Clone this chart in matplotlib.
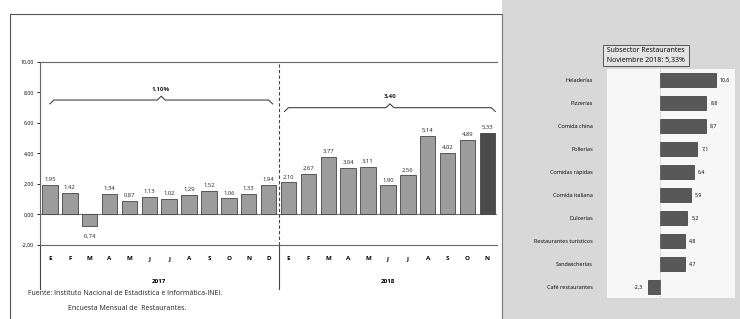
import numpy as np
import matplotlib.pyplot as plt
from matplotlib.patches import Rectangle

# datos del grafico izquierdo
meses = ['E', 'F', 'M', 'A', 'M', 'J', 'J', 'A', 'S', 'O', 'N', 'D',
         'E', 'F', 'M', 'A', 'M', 'J', 'J', 'A', 'S', 'O', 'N']
valores = [1.95, 1.42, -0.74, 1.34, 0.87, 1.13, 1.02, 1.29, 1.52, 1.06, 1.33, 1.94,
           2.10, 2.67, 3.77, 3.04, 3.11, 1.90, 2.56, 5.14, 4.02, 4.89, 5.33]
etiquetas = ['1,95', '1,42', '-0,74', '1,34', '0,87', '1,13', '1,02', '1,29', '1,52',
             '1,06', '1,33', '1,94', '2,10', '2,67', '3,77', '3,04', '3,11', '1,90',
             '2,56', '5,14', '4,02', '4,89', '5,33']
anios = ['2017', '2018']
promedios = ['1,10%', '3,40']
yticks = [-2, 0, 2, 4, 6, 8, 10]

# datos del grafico derecho
subsector = ['Heladerías', 'Pizzerías', 'Comida china', 'Pollerías', 'Comidas rápidas',
             'Comida italiana', 'Dulcerías', 'Restaurantes turísticos', 'Sandwicherías',
             'Café restaurantes']
var_sub = [10.6, 8.8, 8.7, 7.1, 6.4, 5.9, 5.2, 4.8, 4.7, -2.3]

plt.rcParams['font.family'] = ['Open Sans', 'DejaVu Sans']
fig = plt.figure(figsize=(7.4, 3.19), dpi=100)

# panel gris derecho
fig.patches.append(Rectangle((0.678, 0), 0.322, 1, transform=fig.transFigure,
                             facecolor='#d8d8d8', edgecolor='none', zorder=-5))
# marco izquierdo
fig.add_artist(plt.Line2D([0.014, 0.678], [0.955, 0.955], color='#555', lw=0.8))
fig.add_artist(plt.Line2D([0.014, 0.014], [0.955, 0.0], color='#555', lw=0.8))
fig.add_artist(plt.Line2D([0.678, 0.678], [0.955, 0.0], color='#777', lw=0.8))

# grafico de barras mensual
ax = fig.add_axes([0.054, 0.232, 0.618, 0.574])
x = np.arange(len(valores))
colores = ['#9c9c9c'] * (len(valores) - 1) + ['#4a4a4a']
ax.bar(x, valores, width=0.78, color=colores, edgecolor='#444', linewidth=0.6, zorder=3)
for xi, v, t in zip(x, valores, etiquetas):
    if v >= 0:
        ax.text(xi, v + 0.2, t, ha='center', va='bottom', fontsize=4.2, color='#222')
    else:
        ax.text(xi, v - 0.5, t, ha='center', va='top', fontsize=4.2, color='#222')
ax.set_xlim(-0.5, len(valores) - 0.5)
ax.set_ylim(-2, 10)
ax.set_yticks(yticks)
ax.set_yticklabels([f'{t:.2f}'.replace('.', ',') for t in yticks], fontsize=3.8)
ax.set_xticks(x)
ax.set_xticklabels(meses, fontsize=4.5, fontweight='bold')
ax.tick_params(axis='x', length=0, pad=8)
ax.tick_params(axis='y', length=2, width=0.6, pad=2)
ax.axhline(0, color='#777', lw=0.8, zorder=2)
for s in ['top', 'bottom', 'left']:
    ax.spines[s].set_color('#666')
    ax.spines[s].set_linewidth(0.8)
ax.spines['right'].set_visible(False)
ax.axvline(11.5, color='#444', lw=0.8, ls=(0, (3, 2)), zorder=4)
ax.plot([11.5, 11.5], [-2, -4.9], color='#444', lw=0.8, clip_on=False)
ax.plot([-0.5, -0.5], [-2, -4.9], color='#444', lw=0.8, clip_on=False)

# llaves de promedio
def llave(x0, x1, y, txt):
    xm = (x0 + x1) / 2
    h = 0.25
    ax.plot([x0, x0 + 0.2, xm - 0.2, xm, xm + 0.2, x1 - 0.2, x1],
            [y - h, y, y, y + h, y, y, y - h], color='#444', lw=0.8)
    ax.text(xm, y + 0.55, txt, ha='center', va='bottom', fontsize=4.5,
            fontweight='bold', color='#222')

llave(0.0, 11.2, 7.5, promedios[0])
llave(11.8, 22.4, 7.0, promedios[1])

ax.text(5.5, -4.4, anios[0], ha='center', va='center', fontsize=4.5, fontweight='bold')
ax.text(17.0, -4.4, anios[1], ha='center', va='center', fontsize=4.5, fontweight='bold')

fig.text(0.038, 0.075, 'Fuente: Instituto Nacional de Estadística e Informática-INEI.',
         fontsize=5, color='#222')
fig.text(0.092, 0.028, 'Encuesta Mensual de  Restaurantes.', fontsize=5, color='#222')

# recuadro de titulo del subsector
fig.text(0.873, 0.826, ' Subsector Restaurantes \n Noviembre 2018: 5,33% ', ha='center',
         va='center', fontsize=5, linespacing=1.5,
         bbox=dict(boxstyle='square,pad=0.35', facecolor='#e4e4e4', edgecolor='#555', lw=0.7))

# grafico de barras horizontales
ax2 = fig.add_axes([0.82, 0.065, 0.173, 0.72])
ax2.set_facecolor('#f7f7f7')
y = np.arange(len(subsector))
ax2.barh(y, var_sub, height=0.6, color='#585858', edgecolor='#333', linewidth=0.5)
for yi, v in zip(y, var_sub):
    t = f'{v:.1f}'.replace('.', ',')
    if v >= 0:
        ax2.text(v + 0.8, yi, t, ha='left', va='center', fontsize=3.8)
    else:
        ax2.text(v - 0.8, yi, t, ha='right', va='center', fontsize=3.8)
ax2.set_xlim(-10, 14.2)
ax2.set_ylim(len(subsector) - 0.5, -0.5)
ax2.set_yticks(y)
ax2.set_yticklabels(subsector, fontsize=4)
ax2.tick_params(axis='y', length=0, pad=10)
ax2.set_xticks([])
ax2.axvline(0, color='#999', lw=0.5, ls=':')
for s in ax2.spines.values():
    s.set_visible(False)

fig.savefig('out.png', dpi=100)
